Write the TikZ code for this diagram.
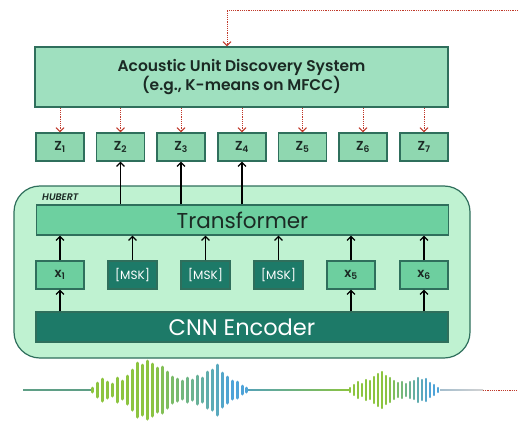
\documentclass[tikz,border=0pt]{standalone}
\usepackage{fontspec}
\setmainfont{Poppins}[BoldFont={Poppins SemiBold}]
\usetikzlibrary{arrows.meta}
\definecolor{sysfill}{HTML}{9FE0BF}
\definecolor{zfill}{HTML}{8FD7B0}
\definecolor{bord}{HTML}{2F6F5C}
\definecolor{hubfill}{HTML}{BFF2D1}
\definecolor{trfill}{HTML}{6DD0A0}
\definecolor{xfill}{HTML}{6DCF9F}
\definecolor{darkteal}{HTML}{1D7A68}
\definecolor{fbred}{HTML}{C0392B}
\definecolor{wgreen}{HTML}{8CC43F}
\definecolor{wblue}{HTML}{4EA3D8}
\definecolor{wline}{HTML}{5F9F86}
\definecolor{worange}{HTML}{C2A04A}
\definecolor{txt}{HTML}{1B2A24}
\tikzset{
  box/.style={draw=bord, line width=1.2pt, inner sep=0pt, text=txt},
  zbox/.style={box, fill=zfill, minimum width=48pt, minimum height=28pt, font=\bfseries\fontsize{13}{13}\selectfont},
  xbox/.style={box, fill=xfill, minimum width=48pt, minimum height=28pt, font=\bfseries\fontsize{13}{13}\selectfont},
  mskbox/.style={box, fill=darkteal, text=white, minimum width=49pt, minimum height=28pt, font=\fontsize{12}{12}\selectfont},
  wide/.style={box, minimum width=412pt, minimum height=30pt},
  fb/.style={draw=fbred, line width=1pt, dash pattern=on 1.2pt off 1pt, -{Straight Barb[length=4pt,width=8pt,line width=1pt]}},
  fbline/.style={draw=fbred, line width=1pt, dash pattern=on 1.2pt off 1pt},
  up/.style={draw=black, line width=1.2pt, -{Straight Barb[length=4pt,width=8pt]}},
}
\begin{document}
\begin{tikzpicture}[x=1pt,y=-1pt]
\useasboundingbox (0,0) rectangle (518,422);
\fill[white] (0,0) rectangle (518,422);
% HUBERT container
\draw[draw=bord, line width=1.2pt, fill=hubfill, rounded corners=26pt] (14,186) rectangle (470,358);
\node[anchor=west, inner sep=0pt, font=\bfseries\itshape\fontsize{9.5}{9.5}\selectfont, text=txt] (hub) at (42,197) {HUBERT};
% system box
\node[box, fill=sysfill, minimum width=413pt, minimum height=60pt, align=center,
      font=\bfseries\fontsize{15.5}{19}\selectfont] (sys) at (241.5,77)
      {Acoustic Unit Discovery System\\(e.g., K-means on MFCC)};
% Z boxes
\foreach \i/\x in {1/60,2/120.5,3/181,4/242,5/302.5,6/363,7/424}{
  \node[zbox] (z\i) at (\x,147) {Z\textsubscript{\i}};
  \draw[fb] (sys.south -| z\i.north) -- (z\i.north);
}
% Transformer
\node[wide, fill=trfill, font=\fontsize{21.5}{21.5}\selectfont] (tr) at (242.5,220) {Transformer};
% CNN
\node[wide, fill=darkteal, text=white, font=\fontsize{22.5}{22.5}\selectfont] (cnn) at (242,327) {CNN Encoder};
% row
\node[xbox] (x1) at (60,275) {x\textsubscript{1}};
\node[mskbox] (m2) at (132.5,275) {[MSK]};
\node[mskbox] (m3) at (205.5,275) {[MSK]};
\node[mskbox] (m4) at (278.5,275) {[MSK]};
\node[xbox] (x5) at (351,275) {x\textsubscript{5}};
\node[xbox] (x6) at (424,275) {x\textsubscript{6}};
\foreach \n in {x1,m2,m3,m4,x5,x6}{
  \draw[up] (\n.north) -- (\n.north |- tr.south);
}
\foreach \n in {x1,x5,x6}{
  \draw[up] (\n.south |- cnn.north) -- (\n.south);
}
\foreach \i in {2,3,4}{
  \draw[up] (z\i.south |- tr.north) -- (z\i.south);
}
% feedback line
\coordinate (fbR) at (518,11);
\coordinate (fbT) at (227,11);
\draw[fb] (fbR) -- (fbT) -- (fbT |- sys.north);
% waveform
\draw[wline, line width=1.4pt] (23,390) -- (92,390);
\shade[left color=wblue!60!wline, middle color=worange, right color=wgreen] (246,389.3) rectangle (350,390.7);
\shade[left color=wblue!50!gray!60, right color=gray!35] (440,389.4) rectangle (483,390.6);
\foreach \x/\h in {92/2,97/7,102/11,107/8,112/6,117/12,122/9,127/14,132/20,137/27,142/25,147/29,152/26,157/22,162/23,167/18,172/13,177/11,182/9,187/12,192/10,197/14,202/12,207/18,212/20,217/25,222/17,227/13,232/9,237/8,242/4,246/2}{
  \pgfmathtruncatemacro{\p}{max(0,min(100,(\x-150)*1.25))}
  \draw[line width=3pt, line cap=round, color=wblue!\p!wgreen] (\x,390-\h) -- (\x,390+\h);
}
\foreach \x/\h in {350/2,354/5,358/8,362/6,366/10,370/9,374/13,378/16,382/18,386/14,390/12,394/9,398/7,402/8,406/6,410/8,414/9,418/12,422/10,426/11,430/7,434/5,438/2}{
  \pgfmathtruncatemacro{\p}{max(0,min(100,(\x-385)*2.2))}
  \draw[line width=2.2pt, line cap=round, color=wblue!\p!wgreen] (\x,390-\h) -- (\x,390+\h);
}
\coordinate (wEnd) at (483,390);
\coordinate (fbB) at (518,390);
\draw[fbline] (wEnd) -- (fbB);
\end{tikzpicture}
\end{document}
